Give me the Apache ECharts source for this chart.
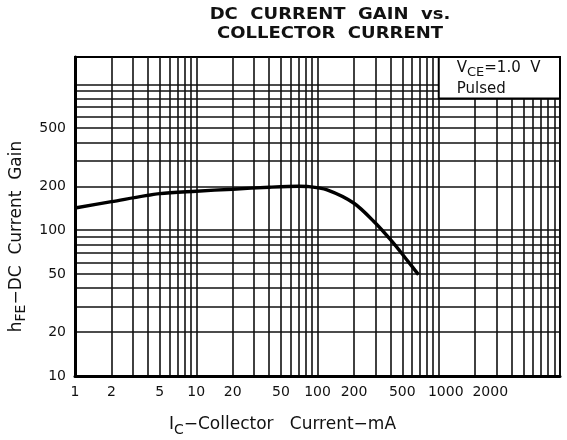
<!DOCTYPE html>
<html><head><meta charset="utf-8">
<script src="https://cdn.jsdelivr.net/npm/echarts@6/dist/echarts.min.js"></script>
<style>html,body{margin:0;padding:0;background:#fff}#c{width:567px;height:440px}</style>
</head><body><div id="c"></div>
<script>
// Curve (IC in mA, hFE)
const collectorCurrent = [1, 2, 5, 10, 20, 40, 70, 85, 120, 200, 300, 410, 530, 680];
const currentGain = [142, 157, 178, 185, 191, 197, 200, 199, 189, 153, 112, 84, 64.5, 49.6];

// Tick labels
const xTickLabels = [1, 2, 5, 10, 20, 50, 100, 200, 500, 1000, 2000];
const yTickLabels = [10, 20, 50, 100, 200, 500];

// Log-paper grid lines
const xGridValues = [1, 2, 3, 4, 5, 6, 7, 8, 9,
  10, 20, 30, 40, 50, 60, 70, 80, 90,
  100, 200, 300, 400, 500, 600, 700, 800, 900,
  1000, 2000, 3000, 4000, 5000, 6000, 7000, 8000, 9000, 10000];
const yGridValues = [10, 20, 30, 40, 50, 60, 70, 80, 90,
  100, 200, 300, 400, 500, 600, 700, 800, 900, 1000];

// Axis ranges
const xRange = [1, 10000];
const yRange = [10, 1540];
// Annotation box corner (lower-left)
const noteCorner = [1000, 800];

const FONT = 'DejaVu Sans';
const chart = echarts.init(document.getElementById('c'), null, {renderer: 'canvas'});
chart.setOption({
  animation: false,
  backgroundColor: '#fff',
  graphic: [{
    type: 'text', x: 330, y: 6, scaleX: 1.2, originX: 0,
    style: {
      text: 'DC  CURRENT  GAIN  vs.\nCOLLECTOR  CURRENT',
      align: 'center', verticalAlign: 'top',
      fontFamily: FONT, fontWeight: 'bold', fontSize: 15, lineHeight: 19, fill: '#111'
    }
  }],
  grid: {left: 75, right: 7, top: 57, bottom: 64, show: true, borderColor: '#000', borderWidth: 2, backgroundColor: 'transparent', containLabel: false, outerBoundsMode: 'none'},
  xAxis: {
    type: 'log', logBase: 10, min: xRange[0], max: xRange[1],
    axisLine: {show: true, onZero: false, lineStyle: {color: '#000', width: 3}},
    axisTick: {show: false, customValues: xGridValues},
    minorTick: {show: false}, minorSplitLine: {show: false},
    splitLine: {show: true, lineStyle: {color: '#111', width: 1.6}},
    axisLabel: {
      customValues: xTickLabels, margin: 9, color: '#111', fontFamily: FONT, fontSize: 14,
      formatter: function (v) {
        const r = Math.round(v);
        if (r === 1000) return '{a|1000}';
        if (r === 2000) return '{b|2000}';
        return '{n|' + r + '}';
      },
      rich: {
        n: {fontFamily: FONT, fontSize: 14, color: '#111'},
        a: {fontFamily: FONT, fontSize: 14, color: '#111', padding: [0, 0, 0, 14]},
        b: {fontFamily: FONT, fontSize: 14, color: '#111', padding: [0, 0, 0, 30]}
      }
    },
    name: '{m|I}{s|C}{m|−Collector   Current−mA}',
    nameLocation: 'middle', nameGap: 37,
    nameTextStyle: {
      padding: [0, 70, 0, 0],
      rich: {
        m: {fontFamily: FONT, fontSize: 17, color: '#111', lineHeight: 24},
        s: {fontFamily: FONT, fontSize: 14, color: '#111', lineHeight: 14, verticalAlign: 'bottom'}
      }
    }
  },
  yAxis: {
    type: 'log', logBase: 10, min: yRange[0], max: yRange[1],
    axisLine: {show: true, lineStyle: {color: '#000', width: 3}},
    axisTick: {show: false, customValues: yGridValues},
    minorTick: {show: false}, minorSplitLine: {show: false},
    splitLine: {show: true, lineStyle: {color: '#111', width: 1.6}},
    axisLabel: {customValues: yTickLabels, margin: 9, color: '#111', fontFamily: FONT, fontSize: 14,
      formatter: function (v) { return String(Math.round(v)); }},
    name: '{m|h}{s|FE}{m|−DC  Current  Gain}',
    nameLocation: 'middle', nameRotate: 90, nameGap: 31,
    nameTextStyle: {
      padding: [0, 40, 0, 0],
      rich: {
        m: {fontFamily: FONT, fontSize: 17, color: '#111', lineHeight: 24},
        s: {fontFamily: FONT, fontSize: 14, color: '#111', lineHeight: 14, verticalAlign: 'bottom'}
      }
    }
  },
  series: [{
    type: 'line',
    data: collectorCurrent.map((x, i) => [x, currentGain[i]]),
    smooth: 0.3, showSymbol: false, symbol: 'none',
    lineStyle: {color: '#000', width: 3.4},
    z: 5,
    markArea: {
      silent: true,
      itemStyle: {color: '#fff', borderColor: '#000', borderWidth: 2},
      label: {
        show: true, position: 'insideTopLeft', distance: 0, padding: [2, 0, 0, 19],
        formatter: '{v|V}{s|CE}{v|=1.0  V}\n{v|Pulsed}',
        rich: {
          v: {fontFamily: FONT, fontSize: 15, color: '#111', lineHeight: 21},
          s: {fontFamily: FONT, fontSize: 13, color: '#111', lineHeight: 13, verticalAlign: 'bottom'}
        }
      },
      data: [[{xAxis: noteCorner[0], yAxis: noteCorner[1]}, {xAxis: xRange[1], yAxis: yRange[1]}]]
    }
  }]
});
</script></body></html>
